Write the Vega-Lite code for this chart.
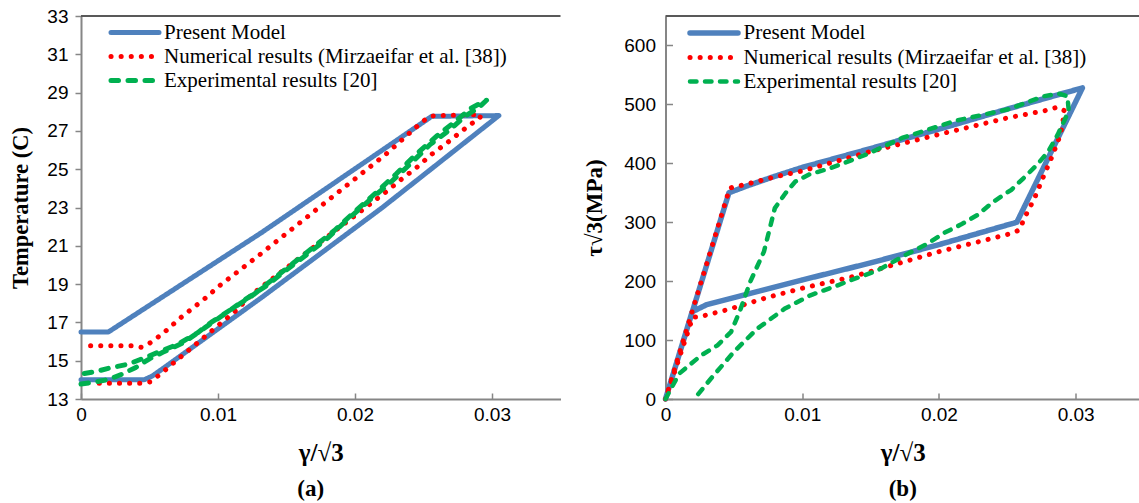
{
  "$schema": "https://vega.github.io/schema/vega-lite/v6.json",
  "padding": {"left": 9, "top": 7, "right": 0, "bottom": 0},
  "bounds": "flush",
  "spacing": 104.5,
  "background": "white",
  "config": {
    "view": {"stroke": null},
    "axis": {"domainColor": "#868686", "domainWidth": 2, "tickColor": "#868686", "tickWidth": 1.5, "labelFont": "Liberation Sans", "labelFontSize": 19, "labelColor": "black", "titleFont": "Liberation Serif", "titleFontWeight": "bold", "titleColor": "black", "grid": false, "labelFlush": false, "labelOverlap": false, "tickCount": 30},
    "legend": {"labelFont": "Liberation Serif", "labelFontSize": 21, "labelColor": "black", "labelLimit": 600, "padding": 0, "rowPadding": 1, "labelOffset": 16.5, "symbolType": "M-2.4,0H2.4", "symbolSize": 400}
  },
  "datasets": {
    "a": [
      {"s": "Present Model", "i": 1, "x": 0, "y": 14.0},
      {"s": "Present Model", "i": 2, "x": 0.0046, "y": 14.0},
      {"s": "Present Model", "i": 3, "x": 0.0052, "y": 14.2},
      {"s": "Present Model", "i": 4, "x": 0.0059, "y": 14.55},
      {"s": "Present Model", "i": 5, "x": 0.0132, "y": 18.31},
      {"s": "Present Model", "i": 6, "x": 0.022, "y": 23.0},
      {"s": "Present Model", "i": 7, "x": 0.0305, "y": 27.8},
      {"s": "Present Model", "i": 8, "x": 0.0256, "y": 27.76},
      {"s": "Present Model", "i": 9, "x": 0.0219, "y": 25.95},
      {"s": "Present Model", "i": 10, "x": 0.0132, "y": 21.7},
      {"s": "Present Model", "i": 11, "x": 0.002, "y": 16.5},
      {"s": "Present Model", "i": 12, "x": 0, "y": 16.5},
      {"s": "Numerical results (Mirzaeifar et al. [38])", "i": 1, "x": 0.0007, "y": 15.78},
      {"s": "Numerical results (Mirzaeifar et al. [38])", "i": 2, "x": 0.0037, "y": 15.78},
      {"s": "Numerical results (Mirzaeifar et al. [38])", "i": 3, "x": 0.0044, "y": 15.7},
      {"s": "Numerical results (Mirzaeifar et al. [38])", "i": 4, "x": 0.005, "y": 15.91},
      {"s": "Numerical results (Mirzaeifar et al. [38])", "i": 5, "x": 0.0056, "y": 16.22},
      {"s": "Numerical results (Mirzaeifar et al. [38])", "i": 6, "x": 0.0062, "y": 16.56},
      {"s": "Numerical results (Mirzaeifar et al. [38])", "i": 7, "x": 0.0073, "y": 17.26},
      {"s": "Numerical results (Mirzaeifar et al. [38])", "i": 8, "x": 0.009, "y": 18.22},
      {"s": "Numerical results (Mirzaeifar et al. [38])", "i": 9, "x": 0.0101, "y": 18.91},
      {"s": "Numerical results (Mirzaeifar et al. [38])", "i": 10, "x": 0.013, "y": 20.51},
      {"s": "Numerical results (Mirzaeifar et al. [38])", "i": 11, "x": 0.0222, "y": 25.75},
      {"s": "Numerical results (Mirzaeifar et al. [38])", "i": 12, "x": 0.0249, "y": 27.47},
      {"s": "Numerical results (Mirzaeifar et al. [38])", "i": 13, "x": 0.0255, "y": 27.78},
      {"s": "Numerical results (Mirzaeifar et al. [38])", "i": 14, "x": 0.0292, "y": 27.85},
      {"s": "Numerical results (Mirzaeifar et al. [38])", "i": 15, "x": 0.0291, "y": 27.65},
      {"s": "Numerical results (Mirzaeifar et al. [38])", "i": 16, "x": 0.0285, "y": 27.38},
      {"s": "Numerical results (Mirzaeifar et al. [38])", "i": 17, "x": 0.0279, "y": 27.05},
      {"s": "Numerical results (Mirzaeifar et al. [38])", "i": 18, "x": 0.0268, "y": 26.42},
      {"s": "Numerical results (Mirzaeifar et al. [38])", "i": 19, "x": 0.0256, "y": 25.78},
      {"s": "Numerical results (Mirzaeifar et al. [38])", "i": 20, "x": 0.0245, "y": 25.09},
      {"s": "Numerical results (Mirzaeifar et al. [38])", "i": 21, "x": 0.0234, "y": 24.48},
      {"s": "Numerical results (Mirzaeifar et al. [38])", "i": 22, "x": 0.0222, "y": 23.78},
      {"s": "Numerical results (Mirzaeifar et al. [38])", "i": 23, "x": 0.0125, "y": 18.48},
      {"s": "Numerical results (Mirzaeifar et al. [38])", "i": 24, "x": 0.0113, "y": 17.61},
      {"s": "Numerical results (Mirzaeifar et al. [38])", "i": 25, "x": 0.0068, "y": 14.91},
      {"s": "Numerical results (Mirzaeifar et al. [38])", "i": 26, "x": 0.0063, "y": 14.6},
      {"s": "Numerical results (Mirzaeifar et al. [38])", "i": 27, "x": 0.0057, "y": 14.25},
      {"s": "Numerical results (Mirzaeifar et al. [38])", "i": 28, "x": 0.0051, "y": 13.9},
      {"s": "Numerical results (Mirzaeifar et al. [38])", "i": 29, "x": 0.0044, "y": 13.82},
      {"s": "Numerical results (Mirzaeifar et al. [38])", "i": 30, "x": 0.0007, "y": 13.82},
      {"s": "Experimental results [20]", "i": 1, "x": 0, "y": 13.78},
      {"s": "Experimental results [20]", "i": 2, "x": 0.001, "y": 13.88},
      {"s": "Experimental results [20]", "i": 3, "x": 0.002, "y": 14.02},
      {"s": "Experimental results [20]", "i": 4, "x": 0.003, "y": 14.3},
      {"s": "Experimental results [20]", "i": 5, "x": 0.004, "y": 14.65},
      {"s": "Experimental results [20]", "i": 6, "x": 0.005, "y": 15.1},
      {"s": "Experimental results [20]", "i": 7, "x": 0.006, "y": 15.45},
      {"s": "Experimental results [20]", "i": 8, "x": 0.0075, "y": 15.95},
      {"s": "Experimental results [20]", "i": 9, "x": 0.009, "y": 16.7},
      {"s": "Experimental results [20]", "i": 10, "x": 0.0105, "y": 17.45},
      {"s": "Experimental results [20]", "i": 11, "x": 0.012, "y": 18.2},
      {"s": "Experimental results [20]", "i": 12, "x": 0.0135, "y": 18.9},
      {"s": "Experimental results [20]", "i": 13, "x": 0.015, "y": 19.75},
      {"s": "Experimental results [20]", "i": 14, "x": 0.0165, "y": 20.55},
      {"s": "Experimental results [20]", "i": 15, "x": 0.018, "y": 21.4},
      {"s": "Experimental results [20]", "i": 16, "x": 0.0195, "y": 22.4},
      {"s": "Experimental results [20]", "i": 17, "x": 0.021, "y": 23.35},
      {"s": "Experimental results [20]", "i": 18, "x": 0.0225, "y": 24.25},
      {"s": "Experimental results [20]", "i": 19, "x": 0.024, "y": 25.25},
      {"s": "Experimental results [20]", "i": 20, "x": 0.0255, "y": 26.3},
      {"s": "Experimental results [20]", "i": 21, "x": 0.027, "y": 27.1},
      {"s": "Experimental results [20]", "i": 22, "x": 0.028, "y": 27.75},
      {"s": "Experimental results [20]", "i": 23, "x": 0.029, "y": 28.2},
      {"s": "Experimental results [20]", "i": 24, "x": 0.0296, "y": 28.6},
      {"s": "Experimental results [20]", "i": 25, "x": 0.0285, "y": 28.2},
      {"s": "Experimental results [20]", "i": 26, "x": 0.0275, "y": 27.6},
      {"s": "Experimental results [20]", "i": 27, "x": 0.026, "y": 26.75},
      {"s": "Experimental results [20]", "i": 28, "x": 0.0245, "y": 25.8},
      {"s": "Experimental results [20]", "i": 29, "x": 0.023, "y": 24.75},
      {"s": "Experimental results [20]", "i": 30, "x": 0.0215, "y": 23.75},
      {"s": "Experimental results [20]", "i": 31, "x": 0.02, "y": 22.8},
      {"s": "Experimental results [20]", "i": 32, "x": 0.0185, "y": 21.8},
      {"s": "Experimental results [20]", "i": 33, "x": 0.017, "y": 20.95},
      {"s": "Experimental results [20]", "i": 34, "x": 0.0155, "y": 20.1},
      {"s": "Experimental results [20]", "i": 35, "x": 0.014, "y": 19.25},
      {"s": "Experimental results [20]", "i": 36, "x": 0.0125, "y": 18.4},
      {"s": "Experimental results [20]", "i": 37, "x": 0.011, "y": 17.7},
      {"s": "Experimental results [20]", "i": 38, "x": 0.0095, "y": 17.0},
      {"s": "Experimental results [20]", "i": 39, "x": 0.0085, "y": 16.45},
      {"s": "Experimental results [20]", "i": 40, "x": 0.0071, "y": 15.87},
      {"s": "Experimental results [20]", "i": 41, "x": 0.0059, "y": 15.52},
      {"s": "Experimental results [20]", "i": 42, "x": 0.0047, "y": 15.17},
      {"s": "Experimental results [20]", "i": 43, "x": 0.0035, "y": 14.83},
      {"s": "Experimental results [20]", "i": 44, "x": 0.002, "y": 14.6},
      {"s": "Experimental results [20]", "i": 45, "x": 0.001, "y": 14.42},
      {"s": "Experimental results [20]", "i": 46, "x": 0, "y": 14.3}
    ],
    "b": [
      {"s": "Present Model", "i": 1, "x": 0, "y": 0},
      {"s": "Present Model", "i": 2, "x": 0.00464, "y": 350},
      {"s": "Present Model", "i": 3, "x": 0.006, "y": 362},
      {"s": "Present Model", "i": 4, "x": 0.008, "y": 378},
      {"s": "Present Model", "i": 5, "x": 0.01, "y": 393},
      {"s": "Present Model", "i": 6, "x": 0.015, "y": 425},
      {"s": "Present Model", "i": 7, "x": 0.02, "y": 458},
      {"s": "Present Model", "i": 8, "x": 0.025, "y": 492},
      {"s": "Present Model", "i": 9, "x": 0.0305, "y": 528},
      {"s": "Present Model", "i": 10, "x": 0.0257, "y": 300},
      {"s": "Present Model", "i": 11, "x": 0.02, "y": 262},
      {"s": "Present Model", "i": 12, "x": 0.015, "y": 231},
      {"s": "Present Model", "i": 13, "x": 0.01, "y": 202},
      {"s": "Present Model", "i": 14, "x": 0.005, "y": 172},
      {"s": "Present Model", "i": 15, "x": 0.003, "y": 160},
      {"s": "Present Model", "i": 16, "x": 0.00195, "y": 148},
      {"s": "Present Model", "i": 17, "x": 0, "y": 0},
      {"s": "Numerical results (Mirzaeifar et al. [38])", "i": 1, "x": 0, "y": 0},
      {"s": "Numerical results (Mirzaeifar et al. [38])", "i": 2, "x": 0.0047, "y": 358},
      {"s": "Numerical results (Mirzaeifar et al. [38])", "i": 3, "x": 0.006, "y": 365},
      {"s": "Numerical results (Mirzaeifar et al. [38])", "i": 4, "x": 0.008, "y": 377},
      {"s": "Numerical results (Mirzaeifar et al. [38])", "i": 5, "x": 0.01, "y": 387},
      {"s": "Numerical results (Mirzaeifar et al. [38])", "i": 6, "x": 0.015, "y": 420},
      {"s": "Numerical results (Mirzaeifar et al. [38])", "i": 7, "x": 0.02, "y": 449},
      {"s": "Numerical results (Mirzaeifar et al. [38])", "i": 8, "x": 0.025, "y": 477},
      {"s": "Numerical results (Mirzaeifar et al. [38])", "i": 9, "x": 0.0277, "y": 489},
      {"s": "Numerical results (Mirzaeifar et al. [38])", "i": 10, "x": 0.0287, "y": 495.5},
      {"s": "Numerical results (Mirzaeifar et al. [38])", "i": 11, "x": 0.0292, "y": 489},
      {"s": "Numerical results (Mirzaeifar et al. [38])", "i": 12, "x": 0.0289, "y": 449},
      {"s": "Numerical results (Mirzaeifar et al. [38])", "i": 13, "x": 0.0283, "y": 413},
      {"s": "Numerical results (Mirzaeifar et al. [38])", "i": 14, "x": 0.0276, "y": 375},
      {"s": "Numerical results (Mirzaeifar et al. [38])", "i": 15, "x": 0.027, "y": 341},
      {"s": "Numerical results (Mirzaeifar et al. [38])", "i": 16, "x": 0.02625, "y": 307},
      {"s": "Numerical results (Mirzaeifar et al. [38])", "i": 17, "x": 0.0259, "y": 287},
      {"s": "Numerical results (Mirzaeifar et al. [38])", "i": 18, "x": 0.0253, "y": 281},
      {"s": "Numerical results (Mirzaeifar et al. [38])", "i": 19, "x": 0.0231, "y": 268},
      {"s": "Numerical results (Mirzaeifar et al. [38])", "i": 20, "x": 0.02, "y": 250},
      {"s": "Numerical results (Mirzaeifar et al. [38])", "i": 21, "x": 0.0136, "y": 207},
      {"s": "Numerical results (Mirzaeifar et al. [38])", "i": 22, "x": 0.01, "y": 188},
      {"s": "Numerical results (Mirzaeifar et al. [38])", "i": 23, "x": 0.0074, "y": 172},
      {"s": "Numerical results (Mirzaeifar et al. [38])", "i": 24, "x": 0.0046, "y": 152},
      {"s": "Numerical results (Mirzaeifar et al. [38])", "i": 25, "x": 0.0024, "y": 139},
      {"s": "Numerical results (Mirzaeifar et al. [38])", "i": 26, "x": 0.002, "y": 139},
      {"s": "Numerical results (Mirzaeifar et al. [38])", "i": 27, "x": 0, "y": 0},
      {"s": "Experimental results [20]", "i": 1, "x": 0, "y": 0},
      {"s": "Experimental results [20]", "i": 2, "x": 0.001, "y": 43},
      {"s": "Experimental results [20]", "i": 3, "x": 0.0026, "y": 74},
      {"s": "Experimental results [20]", "i": 4, "x": 0.0038, "y": 91},
      {"s": "Experimental results [20]", "i": 5, "x": 0.0048, "y": 114},
      {"s": "Experimental results [20]", "i": 6, "x": 0.0055, "y": 153},
      {"s": "Experimental results [20]", "i": 7, "x": 0.0062, "y": 199},
      {"s": "Experimental results [20]", "i": 8, "x": 0.0072, "y": 250},
      {"s": "Experimental results [20]", "i": 9, "x": 0.008, "y": 324},
      {"s": "Experimental results [20]", "i": 10, "x": 0.0088, "y": 350},
      {"s": "Experimental results [20]", "i": 11, "x": 0.0095, "y": 369},
      {"s": "Experimental results [20]", "i": 12, "x": 0.0105, "y": 381},
      {"s": "Experimental results [20]", "i": 13, "x": 0.0121, "y": 392},
      {"s": "Experimental results [20]", "i": 14, "x": 0.0147, "y": 415},
      {"s": "Experimental results [20]", "i": 15, "x": 0.0173, "y": 443},
      {"s": "Experimental results [20]", "i": 16, "x": 0.0212, "y": 472},
      {"s": "Experimental results [20]", "i": 17, "x": 0.0251, "y": 492},
      {"s": "Experimental results [20]", "i": 18, "x": 0.0277, "y": 514},
      {"s": "Experimental results [20]", "i": 19, "x": 0.0288, "y": 518},
      {"s": "Experimental results [20]", "i": 20, "x": 0.0294, "y": 514},
      {"s": "Experimental results [20]", "i": 21, "x": 0.0295, "y": 489},
      {"s": "Experimental results [20]", "i": 22, "x": 0.0292, "y": 474},
      {"s": "Experimental results [20]", "i": 23, "x": 0.0287, "y": 449},
      {"s": "Experimental results [20]", "i": 24, "x": 0.028, "y": 420},
      {"s": "Experimental results [20]", "i": 25, "x": 0.0272, "y": 398},
      {"s": "Experimental results [20]", "i": 26, "x": 0.0262, "y": 375},
      {"s": "Experimental results [20]", "i": 27, "x": 0.0253, "y": 355},
      {"s": "Experimental results [20]", "i": 28, "x": 0.024, "y": 335},
      {"s": "Experimental results [20]", "i": 29, "x": 0.0228, "y": 312},
      {"s": "Experimental results [20]", "i": 30, "x": 0.0216, "y": 296},
      {"s": "Experimental results [20]", "i": 31, "x": 0.0204, "y": 282},
      {"s": "Experimental results [20]", "i": 32, "x": 0.0192, "y": 264},
      {"s": "Experimental results [20]", "i": 33, "x": 0.018, "y": 250},
      {"s": "Experimental results [20]", "i": 34, "x": 0.0155, "y": 218},
      {"s": "Experimental results [20]", "i": 35, "x": 0.0136, "y": 202},
      {"s": "Experimental results [20]", "i": 36, "x": 0.0126, "y": 193},
      {"s": "Experimental results [20]", "i": 37, "x": 0.0106, "y": 176},
      {"s": "Experimental results [20]", "i": 38, "x": 0.0087, "y": 153},
      {"s": "Experimental results [20]", "i": 39, "x": 0.0067, "y": 119},
      {"s": "Experimental results [20]", "i": 40, "x": 0.005, "y": 80},
      {"s": "Experimental results [20]", "i": 41, "x": 0.0033, "y": 34},
      {"s": "Experimental results [20]", "i": 42, "x": 0.0021, "y": 0}
    ]
  },
  "hconcat": [
    {
      "width": 479.5,
      "height": 383,
      "title": {"text": "(a)", "orient": "bottom", "anchor": "middle", "frame": "group", "dx": -10, "offset": 13, "font": "Liberation Serif", "fontSize": 23, "fontWeight": "bold", "color": "black"},
      "layer": [
        {
          "data": {"name": "a"},
          "mark": {"type": "line", "strokeCap": "round", "strokeJoin": "round"},
          "encoding": {
            "x": {"field": "x", "type": "quantitative", "scale": {"domain": [0, 0.035], "nice": false, "zero": false},
                  "axis": {"values": [0, 0.01, 0.02, 0.03], "tickCount": 30, "format": ".2~f", "tickSize": -6, "labelPadding": 12, "labelOverlap": false, "title": "γ/√3", "titleFontSize": 25, "titlePadding": 16}},
            "y": {"field": "y", "type": "quantitative", "scale": {"domain": [13, 33], "nice": false, "zero": false},
                  "axis": {"values": [13, 15, 17, 19, 21, 23, 25, 27, 29, 31, 33], "tickCount": 30, "format": "d", "tickSize": 6, "labelPadding": 7, "labelOverlap": false, "title": "Temperature (C)", "titleFontSize": 22.5, "titlePadding": 14}},
            "color": {"field": "s", "type": "nominal",
                      "scale": {"domain": ["Present Model", "Numerical results (Mirzaeifar et al. [38])", "Experimental results [20]"], "range": ["#4F81BD", "#FF0000", "#00B050"]},
                      "legend": {"title": null, "orient": "none", "legendX": 41.5, "legendY": 4, "symbolStrokeWidth": 5, "encode": {"symbols": {"update": {"strokeCap": {"value": "round"}}}}}},
            "strokeDash": {"field": "s", "type": "nominal",
                      "scale": {"domain": ["Present Model", "Numerical results (Mirzaeifar et al. [38])", "Experimental results [20]"], "range": [[1, 0], [0.1, 10], [7.5, 9.5]]},
                      "legend": {"title": null, "orient": "none", "legendX": 41.5, "legendY": 4, "symbolStrokeWidth": 5, "encode": {"symbols": {"update": {"strokeCap": {"value": "round"}}}}}},
            "strokeWidth": {"field": "s", "type": "nominal",
                      "scale": {"domain": ["Present Model", "Numerical results (Mirzaeifar et al. [38])", "Experimental results [20]"], "range": [5, 5, 4.5]},
                      "legend": null},
            "order": {"field": "i", "type": "quantitative"}
          }
        },
        {
          "data": {"values": [{}]},
          "mark": {"type": "rule", "color": "#595959", "strokeWidth": 2},
          "encoding": {"y": {"datum": 33}}
        }
      ]
    },
    {
      "width": 474.5,
      "height": 383,
      "title": {"text": "(b)", "orient": "bottom", "anchor": "middle", "frame": "group", "dx": 0, "offset": 13, "font": "Liberation Serif", "fontSize": 23, "fontWeight": "bold", "color": "black"},
      "layer": [
        {
          "data": {"name": "b"},
          "mark": {"type": "line", "strokeCap": "round", "strokeJoin": "round"},
          "encoding": {
            "x": {"field": "x", "type": "quantitative", "scale": {"domain": [0, 0.03471], "nice": false, "zero": false},
                  "axis": {"values": [0, 0.01, 0.02, 0.03], "tickCount": 30, "format": ".2~f", "tickSize": -6, "labelPadding": 12, "labelOverlap": false, "title": "γ/√3", "titleFontSize": 25, "titlePadding": 16}},
            "y": {"field": "y", "type": "quantitative", "scale": {"domain": [0, 650], "nice": false, "zero": false},
                  "axis": {"values": [0, 100, 200, 300, 400, 500, 600], "tickCount": 30, "format": "d", "tickSize": -7, "labelPadding": 17, "labelOverlap": false, "title": "τ√3(MPa)", "titleFontSize": 23, "titlePadding": 17}},
            "color": {"field": "s", "type": "nominal",
                      "scale": {"domain": ["Present Model", "Numerical results (Mirzaeifar et al. [38])", "Experimental results [20]"], "range": ["#4F81BD", "#FF0000", "#00B050"]},
                      "legend": {"title": null, "orient": "none", "legendX": 35.5, "legendY": 4, "symbolStrokeWidth": 5, "encode": {"symbols": {"update": {"strokeCap": {"value": "round"}}}}}},
            "strokeDash": {"field": "s", "type": "nominal",
                      "scale": {"domain": ["Present Model", "Numerical results (Mirzaeifar et al. [38])", "Experimental results [20]"], "range": [[1, 0], [0.1, 10], [6.5, 8.5]]},
                      "legend": {"title": null, "orient": "none", "legendX": 35.5, "legendY": 4, "symbolStrokeWidth": 5, "encode": {"symbols": {"update": {"strokeCap": {"value": "round"}}}}}},
            "strokeWidth": {"field": "s", "type": "nominal",
                      "scale": {"domain": ["Present Model", "Numerical results (Mirzaeifar et al. [38])", "Experimental results [20]"], "range": [5.5, 4.5, 3.5]},
                      "legend": null},
            "order": {"field": "i", "type": "quantitative"}
          }
        },
        {
          "data": {"values": [{}]},
          "mark": {"type": "rule", "color": "#595959", "strokeWidth": 2},
          "encoding": {"y": {"datum": 650}}
        }
      ]
    }
  ],
  "resolve": {"scale": {"color": "independent", "strokeDash": "independent", "strokeWidth": "independent"}, "legend": {"color": "independent", "strokeDash": "independent"}}
}
